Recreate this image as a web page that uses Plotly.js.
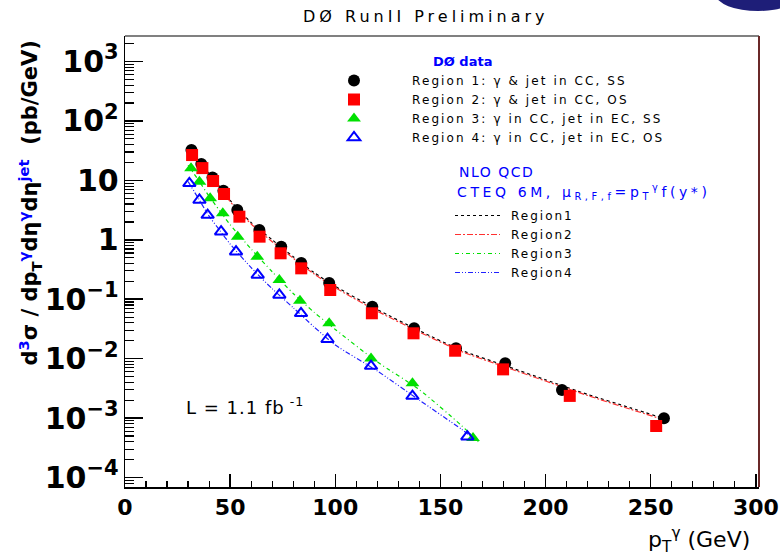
<!DOCTYPE html>
<html>
<head>
<meta charset="utf-8">
<script src="https://cdn.plot.ly/plotly-3.0.1.min.js"></script>
<style>
  html, body { margin: 0; padding: 0; background: #ffffff; }
  #chart { width: 780px; height: 560px; }
</style>
</head>
<body>
<div id="chart"></div>
<script>
// Measured triple-differential cross sections (pb/GeV) vs photon pT (GeV)
const region1Pt  = [31.6, 36.3, 41.6, 46.8, 53.4, 63.9, 74.3, 83.8, 97.1, 117.6, 137.5, 157.4, 180.8, 207.8, 256.3];
const region1Val = [32.4, 18.8, 11.2, 6.7, 3.17, 1.46, 0.765, 0.407, 0.187, 0.0748, 0.0324, 0.0149, 0.00835, 0.00297, 0.00099];

const region2Pt  = [31.9, 36.8, 41.9, 47.1, 54.4, 64.0, 74.0, 83.8, 97.6, 117.4, 137.2, 157.0, 179.8, 211.5, 252.6];
const region2Val = [26.7, 16.1, 9.75, 5.9, 2.45, 1.13, 0.593, 0.331, 0.143, 0.058, 0.0267, 0.0136, 0.0066, 0.00236, 0.000736];

const region3Pt  = [31.4, 35.4, 40.5, 46.5, 53.6, 62.9, 73.4, 83.2, 97.1, 117.0, 136.7, 165.5];
const region3Val = [15.96, 9.5, 4.99, 2.79, 1.13, 0.519, 0.21, 0.0944, 0.0394, 0.0101, 0.00385, 0.00046];

const region4Pt  = [30.6, 35.4, 39.3, 45.7, 52.8, 63.1, 73.4, 83.7, 96.3, 117.0, 136.7, 162.8];
const region4Val = [8.93, 4.68, 2.61, 1.37, 0.631, 0.256, 0.118, 0.058, 0.0212, 0.0075, 0.00235, 0.000486];

// NLO QCD predictions
const nlo12Pt   = [30, 35, 40, 45, 50, 60, 70, 80, 90, 100, 120, 140, 160, 180, 200, 220, 240, 258];
const nlo1Val   = [34, 21, 13, 8, 4.6, 1.95, 1.0, 0.52, 0.28, 0.165, 0.067, 0.0295, 0.0138, 0.0078, 0.0044, 0.0025, 0.0015, 0.00094];
const nlo2Val   = [32, 20, 12.3, 7.6, 4.4, 1.85, 0.93, 0.49, 0.265, 0.156, 0.063, 0.028, 0.0132, 0.0074, 0.0042, 0.0024, 0.00142, 0.0009];
const nlo3Pt    = [30, 35, 40, 45, 50, 60, 70, 80, 90, 100, 120, 140, 160, 168];
const nlo3Val   = [18, 10, 5.4, 3.1, 1.8, 0.7, 0.29, 0.125, 0.06, 0.031, 0.0088, 0.003, 0.00075, 0.0004];
const nlo4Pt    = [30, 35, 40, 45, 50, 60, 70, 80, 90, 100, 120, 140, 160, 166];
const nlo4Val   = [9.6, 4.9, 2.5, 1.45, 0.85, 0.34, 0.15, 0.072, 0.034, 0.017, 0.0062, 0.002, 0.00065, 0.00045];

const dataNames = ['Region 1: γ & jet in CC, SS', 'Region 2: γ & jet in CC, OS',
                   'Region 3: γ in CC, jet in EC, SS', 'Region 4: γ in CC, jet in EC, OS'];
const nloNames  = ['Region1', 'Region2', 'Region3', 'Region4'];

const FONT = 'DejaVu Sans, Verdana, sans-serif';
const BLUE = '#0000ff';
const X_RANGE = [0, 301.5];
const Y_RANGE = [-4.16, 3.43];

// widen text the way the ROOT canvas renders it
const spaced = (s, px) => '<span style="letter-spacing:' + px + 'px">' + s + '</span>';

function nloTrace(x, y, name, color, dash) {
  return { x: x, y: y, name: '\u2002' + spaced(name, 2), type: 'scatter', mode: 'lines', legend: 'legend2',
           line: { color: color, width: 1.2, dash: dash, shape: 'spline', smoothing: 0.6 } };
}
function dataTrace(x, y, name, marker) {
  return { x: x, y: y, name: spaced(name, 2.1), type: 'scatter', mode: 'markers', legend: 'legend', marker: marker };
}

const traces = [
  nloTrace(nlo12Pt, nlo1Val, nloNames[0], '#000000', '3px,3px'),
  nloTrace(nlo12Pt, nlo2Val, nloNames[1], '#ff3030', '6px,2px,2px,2px'),
  nloTrace(nlo3Pt,  nlo3Val, nloNames[2], '#00e000', '4px,3px,1px,3px'),
  nloTrace(nlo4Pt,  nlo4Val, nloNames[3], '#2020ff', '5px,2px,1px,2px,1px,2px'),
  dataTrace(region1Pt, region1Val, dataNames[0], { symbol: 'circle', size: 12, color: '#000000' }),
  dataTrace(region2Pt, region2Val, dataNames[1], { symbol: 'square', size: 12, color: '#ff0000' }),
  dataTrace(region3Pt, region3Val, dataNames[2], { symbol: 'triangle-up', size: 12, color: '#00e000' }),
  dataTrace(region4Pt, region4Val, dataNames[3], { symbol: 'triangle-up-open', size: 11, color: BLUE, line: { width: 2, color: BLUE } })
];

// plot frame in pixels: left 125, right 759, top 36, bottom 487
const L = 125, R = 759, T = 36, B = 487;
const px = v => (v - L) / (R - L);
const py = v => (B - v) / (B - T);

const layout = {
  width: 780, height: 560,
  margin: { l: L, r: 780 - R, t: T, b: 560 - B },
  paper_bgcolor: '#ffffff', plot_bgcolor: '#ffffff',
  font: { family: FONT, color: '#000000' },
  showlegend: true,
  xaxis: {
    range: X_RANGE, tickmode: 'linear', tick0: 0, dtick: 50,
    ticks: 'inside', ticklen: 13, tickwidth: 1.5, tickcolor: '#000000',
    minor: { tickmode: 'linear', tick0: 0, dtick: 10, ticks: 'inside', ticklen: 6, tickwidth: 1.2, tickcolor: '#000000' },
    showline: true, linecolor: '#000000', linewidth: 1.5, mirror: false,
    showgrid: false, zeroline: false,
    tickfont: { family: FONT, size: 22, weight: 'bold' }
  },
  yaxis: {
    type: 'log', range: Y_RANGE, tickmode: 'linear', tick0: 0, dtick: 1, exponentformat: 'power',
    ticks: 'inside', ticklen: 18, tickwidth: 1.5, tickcolor: '#000000',
    minor: { dtick: 'D1', ticks: 'inside', ticklen: 9, tickwidth: 1.2, tickcolor: '#000000' },
    showline: true, linecolor: '#000000', linewidth: 1.5, mirror: false,
    showgrid: false, zeroline: false,
    tickfont: { family: FONT, size: 24, weight: 'bold' }
  },
  legend: {
    x: px(296), y: py(66), xanchor: 'left', yanchor: 'top',
    bgcolor: 'rgba(0,0,0,0)', borderwidth: 0, itemwidth: 106,
    font: { family: FONT, size: 12, color: '#000' }, tracegroupgap: 0
  },
  legend2: {
    x: px(450), y: py(201), xanchor: 'left', yanchor: 'top',
    bgcolor: 'rgba(0,0,0,0)', borderwidth: 0, itemwidth: 45,
    font: { family: FONT, size: 12, color: '#000' }, tracegroupgap: 0
  },
  shapes: [
    { type: 'line', xref: 'paper', yref: 'paper', x0: 0, x1: 1, y0: 1, y1: 1, line: { color: '#808080', width: 2 } },
    { type: 'line', xref: 'paper', yref: 'paper', x0: 1, x1: 1, y0: 0, y1: 1, line: { color: '#6a2828', width: 2 } },
    { type: 'circle', xref: 'paper', yref: 'paper', x0: px(716), x1: px(800), y0: py(11), y1: py(-22),
      fillcolor: '#1e1e78', line: { width: 0 }, layer: 'above' }
  ],
  annotations: [
    { text: spaced('DØ RunII Preliminary', 4), xref: 'paper', yref: 'paper', x: px(426), y: py(17),
      xanchor: 'center', yanchor: 'middle', showarrow: false, font: { family: FONT, size: 16, color: '#000' } },
    { text: 'DØ data', xref: 'paper', yref: 'paper', x: px(462), y: py(61),
      xanchor: 'center', yanchor: 'middle', showarrow: false, font: { family: FONT, size: 13, color: BLUE, weight: 'bold' } },
    { text: spaced('NLO QCD', 1.5), xref: 'paper', yref: 'paper', x: px(457), y: py(172),
      xanchor: 'left', yanchor: 'middle', showarrow: false, font: { family: FONT, size: 14, color: BLUE } },
    { text: spaced('CTEQ 6M, μ<sub>R,F,f</sub>=p<sub>T</sub><sup>γ</sup>f(y*)', 3.6), xref: 'paper', yref: 'paper', x: px(455), y: py(192),
      xanchor: 'left', yanchor: 'middle', showarrow: false, font: { family: FONT, size: 14, color: BLUE } },
    { text: spaced('L = 1.1 fb<sup> -1</sup>', 1), xref: 'paper', yref: 'paper', x: px(184), y: py(406),
      xanchor: 'left', yanchor: 'middle', showarrow: false, font: { family: FONT, size: 18, color: '#000' } },
    { text: 'p<sub>T</sub><sup>γ</sup> (GeV)', xref: 'paper', yref: 'paper', x: px(752), y: py(540),
      xanchor: 'right', yanchor: 'middle', showarrow: false, font: { family: FONT, size: 22, color: '#000' } },
    { text: 'd<sup><span style="color:#0000ff">3</span></sup>σ / dp<sub>T</sub><sup><span style="color:#0000ff">γ</span></sup>dη<sup><span style="color:#0000ff">γ</span></sup>dη<sup><span style="color:#0000ff">jet</span></sup>  (pb/GeV)',
      xref: 'paper', yref: 'paper', x: px(30), y: py(39), textangle: -90,
      xanchor: 'center', yanchor: 'top', showarrow: false, font: { family: FONT, size: 21, color: '#000', weight: 'bold' } }
  ]
};

Plotly.newPlot('chart', traces, layout, { displayModeBar: false, staticPlot: true });
</script>
</body>
</html>
